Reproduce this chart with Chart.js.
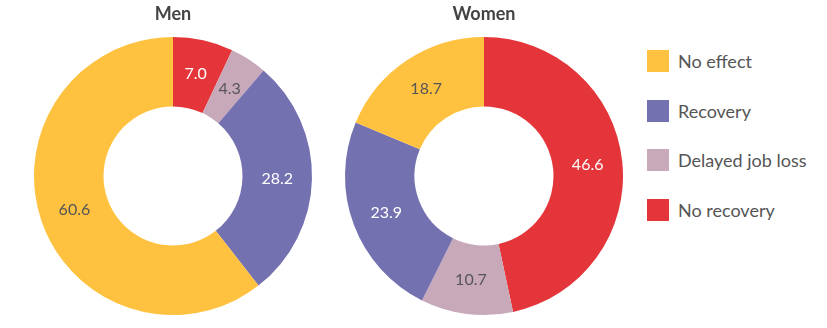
<!DOCTYPE html>
<html>
<head>
<meta charset="utf-8">
<script src="https://cdn.jsdelivr.net/npm/chart.js@4/dist/chart.umd.min.js"></script>
<style>
  body { margin: 0; background: #fff; font-family: Lato, 'Open Sans', sans-serif; }
  #wrap { position: relative; width: 827px; height: 328px; }
  .pie { position: absolute; top: 0; }
  #legend { position: absolute; left: 647px; top: 50px; }
  .item { display: flex; align-items: center; height: 22px; margin-bottom: 27.5px; }
  .box { width: 22px; height: 22px; margin-right: 9px; }
  .txt { font-size: 18px; color: #555; }
</style>
</head>
<body>
<div id="wrap">
  <canvas id="menChart" class="pie" style="left:23px" width="300" height="318"></canvas>
  <canvas id="womenChart" class="pie" style="left:334px" width="300" height="318"></canvas>
  <div id="legend"></div>
</div>
<script>
// slices go clockwise from 12 o'clock
const categories = ['No recovery', 'Delayed job loss', 'Recovery', 'No effect'];
const menValues = [7.0, 4.3, 28.2, 60.6];
const womenValues = [46.6, 10.7, 23.9, 18.7];
const sliceColors = ['#e4363a', '#c8a9b9', '#7471b1', '#ffc240'];
const labelColors = ['#ffffff', '#555555', '#ffffff', '#555555'];

const sliceLabels = {
    id: 'sliceLabels',
    afterDatasetsDraw(chart) {
        const ctx = chart.ctx;
        const meta = chart.getDatasetMeta(0);
        const values = chart.data.datasets[0].data;
        ctx.save();
        ctx.font = '16px Lato';
        ctx.textAlign = 'center';
        ctx.textBaseline = 'middle';
        meta.data.forEach((arc, i) => {
            const pos = arc.tooltipPosition();
            ctx.fillStyle = labelColors[i];
            ctx.fillText(values[i].toFixed(1), pos.x, pos.y);
        });
        ctx.restore();
    }
};

function makeDoughnut(id, title, values) {
    const ctx = document.getElementById(id).getContext('2d');
    return new Chart(ctx, {
        type: 'doughnut',
        data: {
            labels: categories,
            datasets: [{
                data: values,
                backgroundColor: sliceColors,
                borderWidth: 0,
                hoverOffset: 0
            }]
        },
        options: {
            responsive: false,
            animation: false,
            cutout: '50%',
            layout: { padding: { bottom: 3 } },
            plugins: {
                legend: { display: false },
                tooltip: { enabled: false },
                title: {
                    display: true,
                    text: title,
                    color: '#444',
                    font: { size: 18, family: 'Lato', weight: 'bold' },
                    padding: { top: 3, bottom: 12.4 }
                }
            }
        },
        plugins: [sliceLabels]
    });
}

makeDoughnut('menChart', 'Men', menValues);
makeDoughnut('womenChart', 'Women', womenValues);

// legend lists the categories bottom-up
const legend = document.getElementById('legend');
categories.slice().reverse().forEach((name, k) => {
    const i = categories.length - 1 - k;
    const item = document.createElement('div');
    item.className = 'item';
    item.innerHTML = `<div class="box" style="background:${sliceColors[i]}"></div><span class="txt">${name}</span>`;
    legend.appendChild(item);
});
</script>
</body>
</html>
